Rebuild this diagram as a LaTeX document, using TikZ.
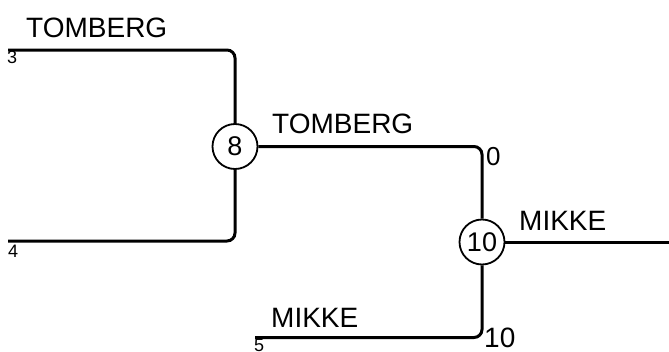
\documentclass[tikz,border=0pt]{standalone}
\usepackage{fontspec}
\setmainfont{Liberation Sans}
\begin{document}
\begin{tikzpicture}[x=1pt,y=-1pt,
  seed/.style={circle,draw,line width=1.8pt,minimum size=45pt,inner sep=0pt,font=\fontsize{27}{29}\selectfont},
  big/.style={anchor=base west,inner sep=0pt,font=\fontsize{28}{30}\selectfont},
  mid/.style={anchor=base west,inner sep=0pt,font=\fontsize{26}{28}\selectfont},
  small/.style={anchor=base west,inner sep=0pt,font=\fontsize{18}{20}\selectfont},
  wire/.style={line width=3pt,rounded corners=8pt}]
\useasboundingbox (0,0) rectangle (669,351);
\node[seed] (n8) at (235,146.5) {8};
\node[seed] (n10) at (482,242) {10};
\coordinate (l3) at (8,50);
\coordinate (l4) at (8,241);
\coordinate (l5) at (255,337.5);
\coordinate (rend) at (669,242);
\draw[wire] (l3) -| (n8);
\draw[wire] (l4) -| (n8);
\draw[wire] (n8) -| (n10);
\draw[wire] (l5) -| (n10);
\draw[wire] (n10) -- (rend);
\node[big] (t1) at (26,37) {TOMBERG};
\node[big] (t2) at (272,133) {TOMBERG};
\node[big] (m1) at (519,230) {MIKKE};
\node[big] (m2) at (271,327) {MIKKE};
\node[mid] (s0) at (486,165) {0};
\node[big] (s10) at (484,347) {10};
\node[small] (a3) at (7,63) {3};
\node[small] (a4) at (8,257) {4};
\node[small] (a5) at (254,351) {5};
\end{tikzpicture}
\end{document}
